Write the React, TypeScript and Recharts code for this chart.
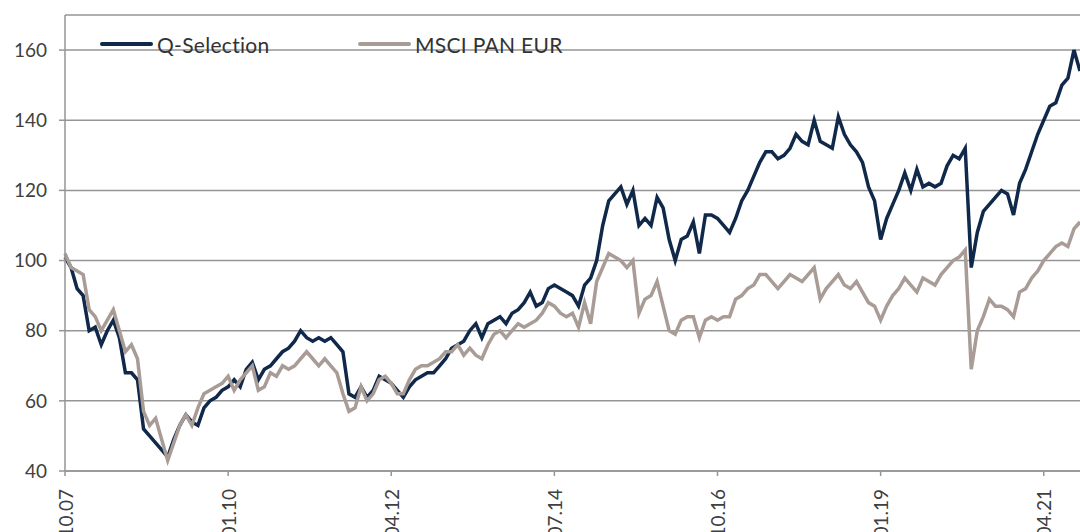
import { CartesianGrid, Line, LineChart, XAxis, YAxis } from "recharts"

// month index 0 = 10.07, one value per month up to 10.21
const qSelection = [
  101, 98, 92, 90, 80, 81, 76, 80, 83, 78,
  68, 68, 66, 52, 50, 48, 46, 44, 49, 53,
  56, 54, 53, 58, 60, 61, 63, 64, 66, 64,
  69, 71, 66, 69, 70, 72, 74, 75, 77, 80,
  78, 77, 78, 77, 78, 76, 74, 62, 61, 64,
  61, 63, 67, 66, 65, 63, 61, 64, 66, 67,
  68, 68, 70, 72, 75, 76, 77, 80, 82, 78,
  82, 83, 84, 82, 85, 86, 88, 91, 87, 88,
  92, 93, 92, 91, 90, 87, 93, 95, 100, 110,
  117, 119, 121, 116, 120, 110, 112, 110, 118, 115,
  106, 100, 106, 107, 111, 102, 113, 113, 112, 110,
  108, 112, 117, 120, 124, 128, 131, 131, 129, 130,
  132, 136, 134, 133, 140, 134, 133, 132, 141, 136,
  133, 131, 128, 121, 117, 106, 112, 116, 120, 125,
  120, 126, 121, 122, 121, 122, 127, 130, 129, 132,
  98, 108, 114, 116, 118, 120, 119, 113, 122, 126,
  131, 136, 140, 144, 145, 150, 152, 160, 154,
]

const msciPanEur = [
  102, 98, 97, 96, 86, 84, 80, 83, 86, 80,
  74, 76, 72, 57, 53, 55, 49, 43, 48, 53,
  56, 53, 58, 62, 63, 64, 65, 67, 63, 66,
  68, 70, 63, 64, 68, 67, 70, 69, 70, 72,
  74, 72, 70, 72, 70, 68, 62, 57, 58, 64,
  60, 62, 66, 67, 65, 62, 62, 66, 69, 70,
  70, 71, 72, 74, 74, 76, 73, 75, 73, 72,
  76, 79, 80, 78, 80, 82, 81, 82, 83, 85,
  88, 87, 85, 84, 85, 81, 88, 82, 94, 98,
  102, 101, 100, 98, 100, 85, 89, 90, 94, 87,
  80, 79, 83, 84, 84, 78, 83, 84, 83, 84,
  84, 89, 90, 92, 93, 96, 96, 94, 92, 94,
  96, 95, 94, 96, 98, 89, 92, 94, 96, 93,
  92, 94, 91, 88, 87, 83, 87, 90, 92, 95,
  93, 91, 95, 94, 93, 96, 98, 100, 101, 103,
  69, 80, 84, 89, 87, 87, 86, 84, 91, 92,
  95, 97, 100, 102, 104, 105, 104, 109, 111,
]

const xTicks = [0, 27, 54, 81, 108, 135, 162]
const yTicks = [40, 60, 80, 100, 120, 140, 160]

const navy = "#10284a"
const taupe = "#a99b95"
const gridColor = "#959595"
const textColor = "#404040"
const font = "Lato, 'Open Sans', sans-serif"

const data = qSelection.map((q, i) => ({ m: i, q, msci: msciPanEur[i] }))

function monthLabel(m: number) {
  const month = ((9 + m) % 12) + 1
  const year = 2007 + Math.floor((9 + m) / 12)
  return `${String(month).padStart(2, "0")}.${String(year % 100).padStart(2, "0")}`
}

function XTick(props: any) {
  const { x, y, payload } = props
  return (
    <text
      x={x}
      y={y + 11}
      transform={`rotate(-90, ${x}, ${y + 11})`}
      textAnchor="end"
      dominantBaseline="central"
      fill={textColor}
      fontSize={19}
      fontFamily={font}
    >
      {monthLabel(payload.value)}
    </text>
  )
}

function LegendItem({ color, label, left }: { color: string; label: string; left: number }) {
  return (
    <div style={{ position: "absolute", left, top: 32, display: "flex", alignItems: "center", height: 24 }}>
      <div style={{ width: 53, height: 4, background: color, borderRadius: 2, marginRight: 4 }} />
      <span style={{ fontSize: 21, color: "#333", fontFamily: font, letterSpacing: 0.3 }}>{label}</span>
    </div>
  )
}

export default function App() {
  return (
    <div style={{ position: "absolute", left: 0, top: 0, width: 1080, height: 532, background: "#fff" }}>
      <LineChart width={1080} height={532} data={data} margin={{ top: 15, right: 0, bottom: 0, left: 0 }}>
        <CartesianGrid vertical={false} stroke={gridColor} strokeWidth={1.5} />
        <XAxis
          dataKey="m"
          type="number"
          domain={[0, 168]}
          ticks={xTicks}
          height={61}
          interval={0}
          stroke={gridColor}
          strokeWidth={1.5}
          tickSize={5}
          tick={<XTick />}
        />
        <YAxis
          type="number"
          domain={[40, 170]}
          ticks={yTicks}
          width={65}
          interval={0}
          stroke={gridColor}
          strokeWidth={1.5}
          tickSize={6}
          tickMargin={12}
          tick={{ fill: textColor, fontSize: 19, fontFamily: font }}
        />
        <Line type="linear" dataKey="q" stroke={navy} strokeWidth={3.5} dot={false} isAnimationActive={false} />
        <Line type="linear" dataKey="msci" stroke={taupe} strokeWidth={3.5} dot={false} isAnimationActive={false} />
      </LineChart>
      <LegendItem color={navy} label="Q-Selection" left={100} />
      <LegendItem color={taupe} label="MSCI PAN EUR" left={358} />
    </div>
  )
}
